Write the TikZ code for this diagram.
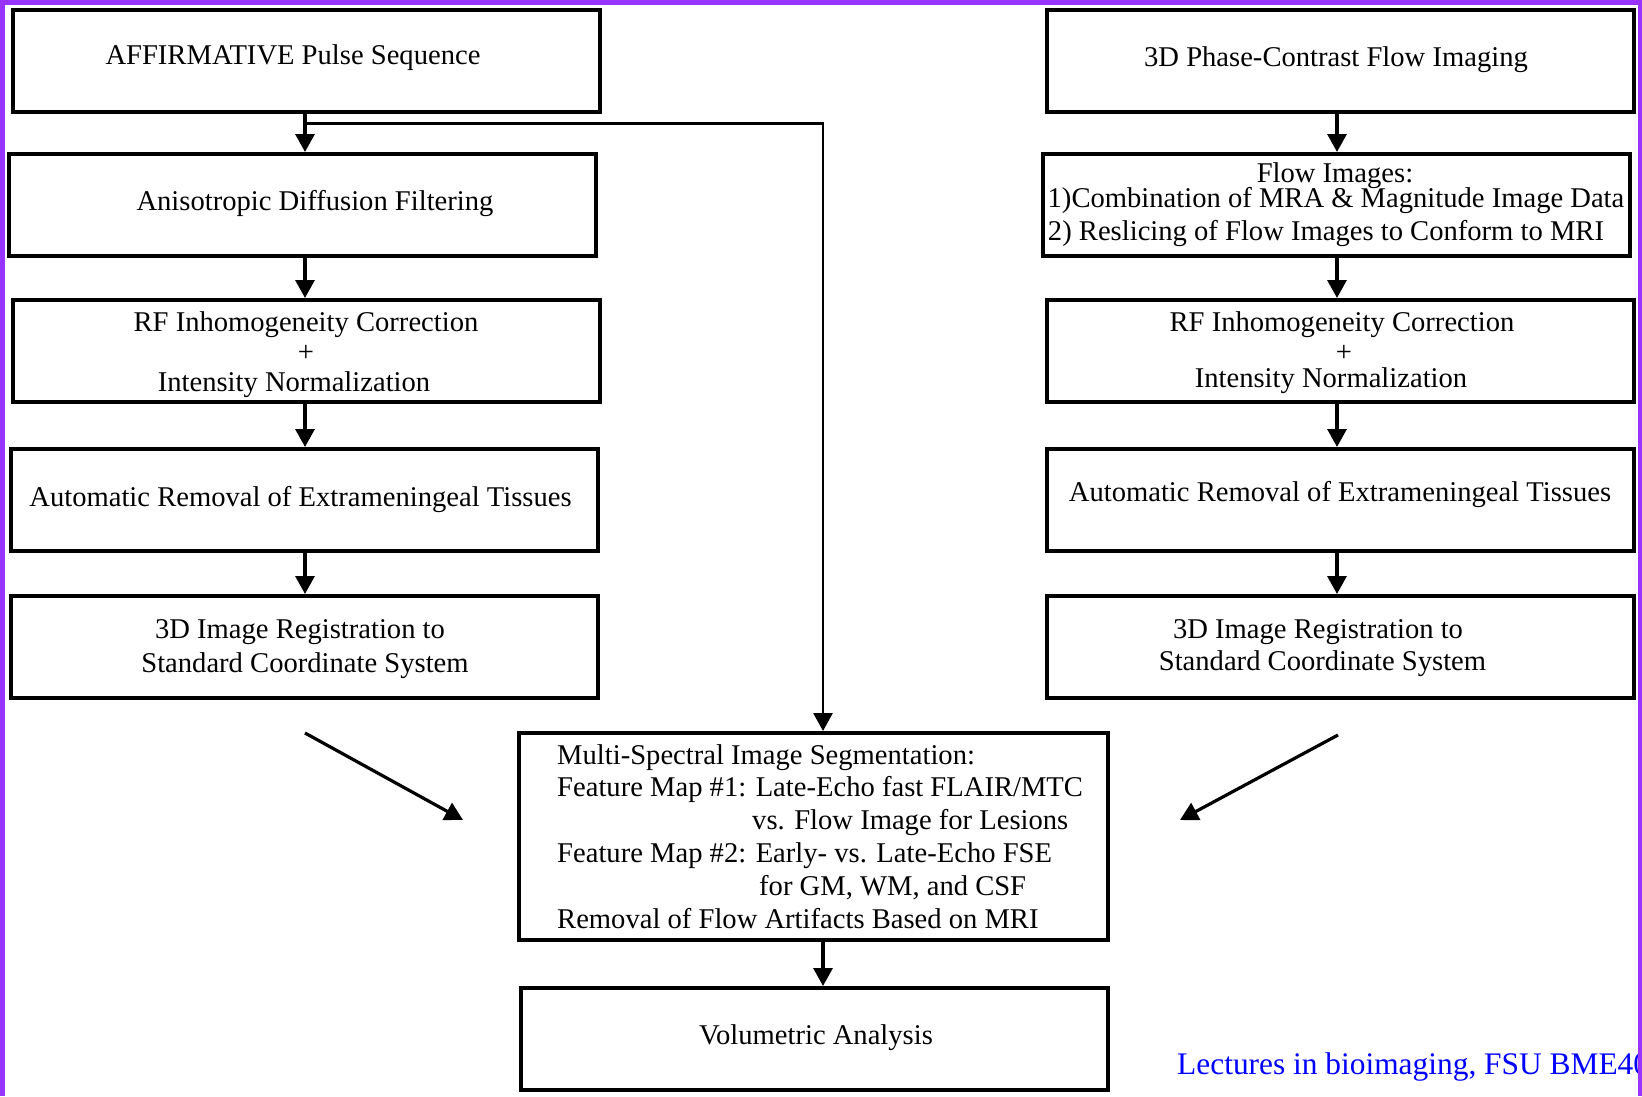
\documentclass[tikz,border=0pt]{standalone}
\usepackage{fontspec}
\setmainfont{Liberation Serif}
\usetikzlibrary{arrows.meta}
\definecolor{frame}{HTML}{9933FF}
\definecolor{note}{HTML}{0000FF}
\tikzset{
  box/.style={draw=black, line width=4pt, fill=white, inner sep=0pt},
  txt/.style={inner sep=0pt, anchor=base, font=\fontsize{28.6}{32}\selectfont},
  txtw/.style={inner sep=0pt, anchor=base west, font=\fontsize{28.6}{32}\selectfont},
  conn/.style={draw=black, line width=3.2pt},
  arr/.style={conn, -{Triangle[length=18pt,width=19pt]}},
}
\begin{document}
\begin{tikzpicture}[x=1pt,y=-1pt]
\clip (0,0) rectangle (1642,1096);
\fill[white] (0,0) rectangle (1642,1096);
% boxes
\node[box, minimum width=587pt, minimum height=102pt] (l1) at (306,61) {};
\node[box, minimum width=587pt, minimum height=102pt] (l2) at (302.6,205) {};
\node[box, minimum width=587pt, minimum height=102pt] (l3) at (306,351) {};
\node[box, minimum width=587pt, minimum height=102pt] (l4) at (304,500) {};
\node[box, minimum width=587pt, minimum height=102pt] (l5) at (304,647) {};
\node[box, minimum width=587pt, minimum height=102pt] (r1) at (1340,60.7) {};
\node[box, minimum width=587pt, minimum height=102pt] (r2) at (1336,205) {};
\node[box, minimum width=587pt, minimum height=102pt] (r3) at (1340,351) {};
\node[box, minimum width=587pt, minimum height=102pt] (r4) at (1340,500) {};
\node[box, minimum width=587pt, minimum height=102pt] (r5) at (1340,647) {};
\node[box, minimum width=589pt, minimum height=207pt] (m) at (813.5,836.5) {};
\node[box, minimum width=587pt, minimum height=102pt] (v) at (814.5,1039) {};
% texts
\node[txt] (tl1) at (293,64.5) {AFFIRMATIVE Pulse Sequence};
\node[txt] (tl2) at (315,210) {Anisotropic Diffusion Filtering};
\node[txt] (tl3a) at (306,331.5) {RF Inhomogeneity Correction};
\node[txt] (tl3b) at (306,361) {+};
\node[txt] (tl3c) at (294,391) {Intensity Normalization};
\node[txt] (tl4) at (300.5,506) {Automatic Removal of Extrameningeal Tissues};
\node[txt] (tl5a) at (300,638) {3D Image Registration to};
\node[txt] (tl5b) at (305,672) {Standard Coordinate System};
\node[txt] (tr1) at (1336,66.6) {3D Phase-Contrast Flow Imaging};
\node[txt] (tr2a) at (1335,182) {Flow Images:};
\node[txt] (tr2b) at (1336,207) {1)Combination of MRA \& Magnitude Image Data};
\node[txt] (tr2c) at (1326,240.5) {2) Reslicing of Flow Images to Conform to MRI};
\node[txt] (tr3a) at (1342,331.5) {RF Inhomogeneity Correction};
\node[txt] (tr3b) at (1344,361) {+};
\node[txt] (tr3c) at (1331,387) {Intensity Normalization};
\node[txt] (tr4) at (1340,501) {Automatic Removal of Extrameningeal Tissues};
\node[txt] (tr5a) at (1318,638) {3D Image Registration to};
\node[txt] (tr5b) at (1322.5,670) {Standard Coordinate System};
\node[txtw] (tm1) at (557,764) {Multi-Spectral Image Segmentation:};
\node[txtw] (tm2) at (557,796.5) {Feature Map \#1: Late-Echo fast FLAIR/MTC};
\node[txtw] (tm3) at (752,829) {vs. Flow Image for Lesions};
\node[txtw] (tm4) at (557,862.5) {Feature Map \#2: Early- vs. Late-Echo FSE};
\node[txtw] (tm5) at (759,895) {for GM, WM, and CSF};
\node[txtw] (tm6) at (557,928.5) {Removal of Flow Artifacts Based on MRI};
\node[txt] (tv) at (816,1044) {Volumetric Analysis};
\node[inner sep=0pt, anchor=base west, font=\fontsize{31.4}{36}\selectfont, text=note] (cred) at (1177,1074) {Lectures in bioimaging, FSU BME4000};
% connector columns
\coordinate (ax) at (305,0);
\coordinate (bx) at (1337,0);
\coordinate (cx) at (823,0);
\coordinate (jn) at (305,123.5);
\draw[arr] (l1.south -| ax) -- (l2.north -| ax);
\draw[arr] (l2.south -| ax) -- (l3.north -| ax);
\draw[arr] (l3.south -| ax) -- (l4.north -| ax);
\draw[arr] (l4.south -| ax) -- (l5.north -| ax);
\draw[arr] (r1.south -| bx) -- (r2.north -| bx);
\draw[arr] (r2.south -| bx) -- (r3.north -| bx);
\draw[arr] (r3.south -| bx) -- (r4.north -| bx);
\draw[arr] (r4.south -| bx) -- (r5.north -| bx);
\draw[arr, line width=2.8pt] (jn) -| (m.north -| cx);
\draw[arr] (m.south -| cx) -- (v.north -| cx);
\coordinate (dl1) at (305,733);
\coordinate (dl2) at (463,820);
\coordinate (dr1) at (1338,735);
\coordinate (dr2) at (1180,820);
\draw[arr] (dl1) -- (dl2);
\draw[arr] (dr1) -- (dr2);
% purple frame
\fill[frame] (0,0) rectangle (1642,4.5);
\fill[frame] (0,0) rectangle (5,1096);
\fill[frame] (1638,0) rectangle (1642,1096);
\end{tikzpicture}
\end{document}
